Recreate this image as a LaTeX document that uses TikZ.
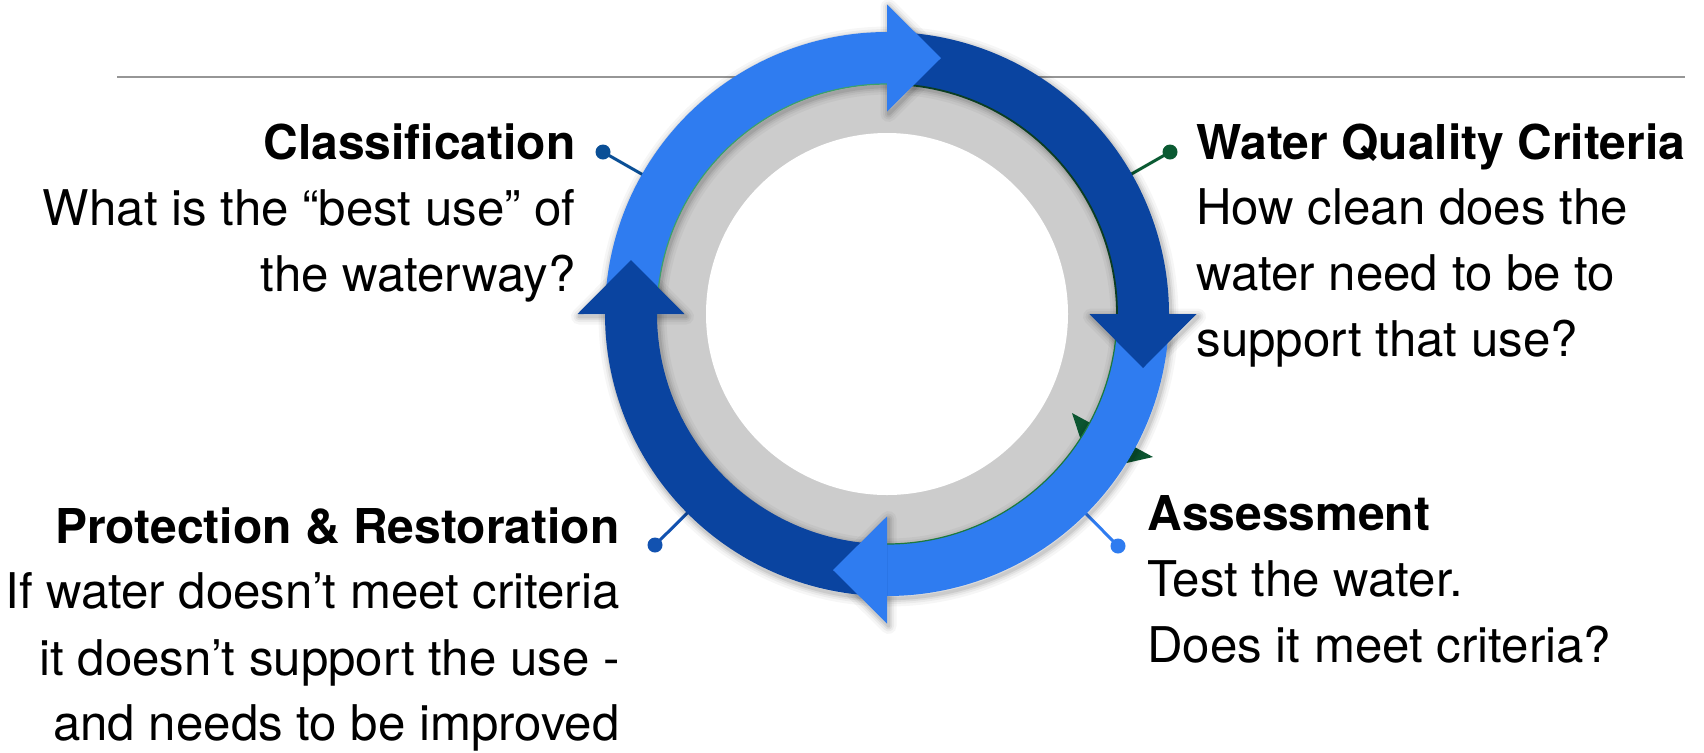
\documentclass[tikz,border=0pt]{standalone}
\usepackage{fontspec}
\setmainfont{TeX Gyre Heros}
\usetikzlibrary{calc}
\definecolor{lblue}{RGB}{47,124,240}
\definecolor{dblue}{RGB}{10,68,160}
\definecolor{ringgray}{RGB}{204,204,204}
\definecolor{hidgreen}{RGB}{11,85,48}
\definecolor{cone}{RGB}{10,79,150}
\definecolor{ctwo}{RGB}{10,90,50}
\definecolor{cthree}{RGB}{18,82,176}
\definecolor{cfour}{RGB}{47,124,240}
\definecolor{rulegray}{RGB}{150,150,150}
\tikzset{
  dotnode/.style={circle, inner sep=0pt, minimum size=7.5pt},
  conn/.style={line width=1.5pt},
  ttl/.style={font=\fontsize{24}{28}\selectfont\bfseries, inner sep=0pt},
  txt/.style={font=\fontsize{24.6}{28}\selectfont, inner sep=0pt},
}
\begin{document}
\begin{tikzpicture}[x=0.5pt,y=0.5pt]
\useasboundingbox (0,0) rectangle (1704,-752);
\fill[white] (0,0) rectangle (1704,-752);
\coordinate (C) at (887,-314);

% horizontal rule
\coordinate (rl) at (117,-77);
\coordinate (rr) at (1685,-77);
\draw[rulegray, line width=1pt] (rl) -- (rr);

% connectors with dots
\node[dotnode, fill=cone] (d1) at (603,-152) {};
\node[dotnode, fill=ctwo] (d2) at (1170,-152) {};
\node[dotnode, fill=cthree] (d3) at (655,-545) {};
\node[dotnode, fill=cfour] (d4) at (1118,-546) {};
\coordinate (e1) at ($(C)+(150.3:275)$);
\coordinate (e2) at ($(C)+(29.8:275)$);
\coordinate (e3) at ($(C)+(224.9:275)$);
\coordinate (e4) at ($(C)+(-45.1:275)$);
\draw[conn, cone] (d1.center) -- (e1);
\draw[conn, ctwo] (d2.center) -- (e2);
\draw[conn, cthree] (d3.center) -- (e3);
\draw[conn, cfour] (d4.center) -- (e4);

% gray ring
\fill[ringgray] (C) circle[radius=236];
\fill[white] (C) circle[radius=181];

% hidden green arrowhead
\coordinate (g1) at (1072,-413);
\coordinate (g2) at (1153,-457);
\coordinate (g3) at (1091,-471);
\fill[hidgreen] (g1) -- (g2) -- (g3) -- cycle;

% soft shadow
\foreach \w/\o in {8pt/0.035, 5.5pt/0.045, 3.5pt/0.06, 1.75pt/0.08}{
  \draw[black, opacity=\o, line width=\w] ($(C)+(1.5,-2.5)$) circle[radius=282];
  \draw[black, opacity=\o, line width=\w] ($(C)+(1.5,-2.5)$) circle[radius=230];
  \foreach \a [evaluate=\a as \t using \a-90] in {90,0,-90,180}{
    \draw[black, opacity=\o, line width=\w, line join=round]
      ($(C)+(1.5,-2.5)+(\a:202.5)$) -- ($(C)+(1.5,-2.5)+(\a:309.5)$)
      -- ($(C)+(1.5,-2.5)+(\a:256)+(\t:54)$) -- cycle;
  }
}

% ring bodies
\foreach \a/\b/\col in {180/89/lblue, 90/-1/dblue, 0/-91/lblue, -90/-181/dblue}{
  \fill[\col] ($(C)+(\a:282)$) arc[start angle=\a, end angle=\b, radius=282]
    -- ($(C)+(\b:230)$) arc[start angle=\b, end angle=\a, radius=230] -- cycle;
}

% thin inner edge lines
\draw[line width=0.6pt, color={rgb,255:red,61;green,160;blue,106}]
  ($(C)+(180:230)$) arc[start angle=180, end angle=90, radius=230];
\draw[line width=0.9pt, color={rgb,255:red,11;green,61;blue,34}]
  ($(C)+(90:230)$) arc[start angle=90, end angle=0, radius=230];
\draw[line width=0.6pt, color={rgb,255:red,28;green,122;blue,60}]
  ($(C)+(0:230)$) arc[start angle=0, end angle=-90, radius=230];

% arrowheads
\foreach \a/\col [evaluate=\a as \t using \a-90] in {90/lblue, 0/dblue, -90/lblue, 180/dblue}{
  \fill[\col] ($(C)+(\a:202.5)$) -- ($(C)+(\a:309.5)$)
    -- ($(C)+(\a:256)+(\t:54)$) -- cycle;
}

% texts
\node[ttl, anchor=base east] (t1a) at (576,-159) {Classification};
\node[txt, anchor=base east] (t1b) at (576,-225) {What is the “best use” of};
\node[txt, anchor=base east] (t1c) at (576,-291) {the waterway?};

\node[ttl, anchor=base west] (t2a) at (1196,-159) {Water Quality Criteria};
\node[txt, anchor=base west] (t2b) at (1196,-224) {How clean does the};
\node[txt, anchor=base west] (t2c) at (1196,-290) {water need to be to};
\node[txt, anchor=base west] (t2d) at (1196,-356) {support that use?};

\node[ttl, anchor=base west] (t3a) at (1147,-530) {Assessment};
\node[txt, anchor=base west] (t3b) at (1147,-596) {Test the water.};
\node[txt, anchor=base west] (t3c) at (1147,-662) {Does it meet criteria?};

\node[ttl, anchor=base east] (t4a) at (620,-543) {Protection \& Restoration};
\node[txt, anchor=base east] (t4b) at (620,-608) {If water doesn’t meet criteria};
\node[txt, anchor=base east] (t4c) at (620,-675) {it doesn’t support the use -};
\node[txt, anchor=base east] (t4d) at (620,-740) {and needs to be improved};
\end{tikzpicture}
\end{document}
